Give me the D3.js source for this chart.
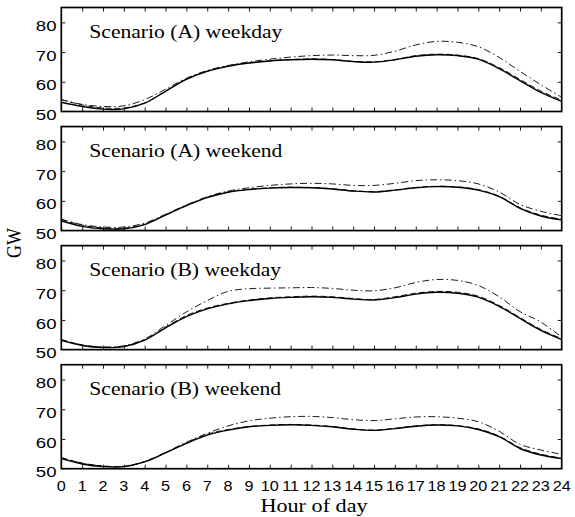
<!DOCTYPE html>
<html><head><meta charset="utf-8">
<script src="https://cdn.jsdelivr.net/npm/d3@7"></script>
<style>html,body{margin:0;padding:0;background:#fff;}svg{display:block;}</style>
</head><body>
<svg id="chart" width="575" height="517"></svg>
<script>
const hours = d3.range(0, 25);
const xTickLabels = hours.map(String);
const yTicks = [50, 60, 70, 80];
const panelTitles = ["Scenario (A) weekday", "Scenario (A) weekend", "Scenario (B) weekday", "Scenario (B) weekend"];
const xLabel = "Hour of day";
const yLabel = "GW";

// Scenario (A) weekday
const aWeekdaySolid  = [53.1,51.7,50.8,50.9,52.8,56.8,60.8,63.5,65.2,66.3,67.0,67.4,67.6,67.4,66.8,66.6,67.4,68.6,69.1,68.8,67.6,64.4,60.4,56.4,53.4];
const aWeekdayDashed = [54.0,52.2,51.2,51.2,52.9,56.9,60.9,63.6,65.3,66.4,67.1,67.5,67.7,67.5,66.9,66.7,67.5,68.8,69.3,69.0,67.8,64.8,60.8,56.9,53.8];
const aWeekdayDashDot= [54.0,52.4,51.7,51.9,54.0,57.5,61.2,63.8,65.5,66.7,67.6,68.3,68.8,69.0,68.8,68.9,70.3,72.4,73.6,73.3,71.8,68.2,63.5,59.0,54.8];
// Scenario (A) weekend
const aWeekendSolid  = [53.3,51.4,50.6,50.6,52.0,55.2,58.4,61.1,62.9,63.8,64.3,64.5,64.4,64.0,63.3,63.0,63.6,64.4,64.8,64.6,63.6,61.4,57.5,54.9,53.6];
const aWeekendDashed = [53.8,51.8,50.9,50.8,52.1,55.3,58.5,61.2,63.0,63.9,64.4,64.6,64.5,64.1,63.4,63.1,63.7,64.5,64.9,64.7,63.8,61.6,57.7,55.2,53.8];
const aWeekendDashDot= [53.8,52.0,51.2,51.2,52.5,55.5,58.6,61.4,63.3,64.4,65.2,65.7,65.9,65.7,65.2,65.2,65.9,66.8,67.1,66.8,65.7,63.0,58.8,56.5,55.0];
// Scenario (B) weekday
const bWeekdaySolid  = [53.1,51.4,50.7,51.0,53.2,57.3,61.1,63.7,65.4,66.5,67.2,67.6,67.8,67.6,67.0,66.7,67.5,68.7,69.3,69.0,67.7,64.6,60.5,56.5,53.4];
const bWeekdayDashed = [53.4,51.6,50.8,51.1,53.3,57.6,61.5,64.0,65.6,66.7,67.4,67.8,68.0,67.8,67.2,66.9,67.8,69.0,69.6,69.3,68.0,64.9,60.8,56.8,53.7];
const bWeekdayDashDot= [53.3,51.6,50.9,51.3,53.6,58.1,62.7,66.5,69.6,70.5,70.7,70.8,70.9,70.6,70.0,69.8,70.8,72.6,73.6,73.3,71.6,67.8,62.8,59.3,54.2];
// Scenario (B) weekend
const bWeekendSolid  = [53.4,51.6,50.7,50.7,52.3,55.3,58.5,61.3,63.0,64.1,64.6,64.8,64.6,64.1,63.3,62.9,63.5,64.3,64.7,64.4,63.2,60.8,56.8,54.6,53.4];
const bWeekendDashed = [53.7,51.9,50.9,50.8,52.4,55.4,58.7,61.6,63.2,64.2,64.7,64.9,64.7,64.2,63.4,63.0,63.6,64.4,64.8,64.5,63.4,61.0,57.1,54.9,53.5];
const bWeekendDashDot= [53.7,51.9,50.9,50.8,52.4,55.5,58.9,61.9,64.4,66.1,67.0,67.5,67.6,67.2,66.5,66.2,66.8,67.4,67.5,67.0,65.8,62.6,58.2,56.3,54.8];

const panels = [
  {title: panelTitles[0], solid: aWeekdaySolid, dashed: aWeekdayDashed, dashdot: aWeekdayDashDot},
  {title: panelTitles[1], solid: aWeekendSolid, dashed: aWeekendDashed, dashdot: aWeekendDashDot},
  {title: panelTitles[2], solid: bWeekdaySolid, dashed: bWeekdayDashed, dashdot: bWeekdayDashDot},
  {title: panelTitles[3], solid: bWeekendSolid, dashed: bWeekendDashed, dashdot: bWeekendDashDot}
];

const svg = d3.select("#chart");
const left = 61.3, right = 561.7;
const panelTop0 = 7.5, panelStep = 119.07, panelH = 104;
const SX = 1.2;
const sans = "'Liberation Sans', Arial, Helvetica, sans-serif";
const serif = "'Liberation Serif', 'Times New Roman', Times, serif";

const x = d3.scaleLinear().domain([0, 24]).range([left, right]);

function addText(g, tx, ty, txt, opts) {
  const sx = opts.sx || SX;
  return g.append("text")
    .attr("transform", `translate(${tx},${ty}) scale(${sx},1)` + (opts.rotate ? ` rotate(${opts.rotate})` : ""))
    .attr("font-family", opts.family)
    .attr("font-size", opts.size)
    .attr("text-anchor", opts.anchor || "start")
    .attr("fill", "#000")
    .text(txt);
}

const lineStyles = [
  {key: "dashdot", width: 0.9, dash: "7,3,1.5,3"},
  {key: "dashed", width: 0.9, dash: "6,3"},
  {key: "solid", width: 1.4, dash: null}
];

panels.forEach((p, i) => {
  const top = panelTop0 + i * panelStep;
  const bottom = top + panelH;
  const y = d3.scaleLinear().domain([50, 85]).range([bottom, top]);
  const g = svg.append("g");

  const line = d3.line().x((d, j) => x(hours[j])).y(d => y(d)).curve(d3.curveCatmullRom.alpha(0.5));

  const clipId = "clip" + i;
  svg.append("clipPath").attr("id", clipId).append("rect")
    .attr("x", left).attr("y", top).attr("width", right - left).attr("height", panelH);

  lineStyles.forEach(s => {
    g.append("path")
      .datum(p[s.key])
      .attr("d", line)
      .attr("clip-path", `url(#${clipId})`)
      .attr("fill", "none")
      .attr("stroke", "#000")
      .attr("stroke-width", s.width)
      .attr("stroke-dasharray", s.dash);
  });

  const tickLen = 4;
  const xb = d3.axisBottom(x).tickValues(hours.slice(1, 24)).tickSize(-tickLen).tickFormat("");
  const xt = d3.axisTop(x).tickValues(hours.slice(1, 24)).tickSize(-tickLen).tickFormat("");
  const yl = d3.axisLeft(y).tickValues(yTicks.slice(1)).tickSize(-tickLen).tickFormat("");
  const yr = d3.axisRight(y).tickValues(yTicks.slice(1)).tickSize(-tickLen).tickFormat("");
  [[xb, `translate(0,${bottom})`], [xt, `translate(0,${top})`], [yl, `translate(${left},0)`], [yr, `translate(${right},0)`]].forEach(([ax, tr]) => {
    const a = g.append("g").attr("transform", tr).call(ax);
    a.select(".domain").remove();
    a.selectAll("line").attr("stroke", "#000").attr("stroke-width", 0.9);
  });

  g.append("rect").attr("x", left).attr("y", top).attr("width", right - left).attr("height", panelH)
    .attr("fill", "none").attr("stroke", "#000").attr("stroke-width", 1.7);

  yTicks.forEach(v => {
    addText(g, 56.5, y(v) + 8.6, String(v), {family: sans, size: 15.5, anchor: "end"});
  });

  addText(g, 89.3, top + 30, p.title, {family: serif, size: 18, anchor: "start"});

  if (i === panels.length - 1) {
    hours.forEach((h, j) => {
      addText(g, x(h), bottom + 22, xTickLabels[j], {family: sans, size: 15, anchor: "middle", sx: 1.08});
    });
  }
});

addText(svg, 314, 511.5, xLabel, {family: serif, size: 18.5, anchor: "middle"});
addText(svg, 21, 243, yLabel, {family: serif, size: 18, anchor: "middle", rotate: -90});
</script>
</body></html>
